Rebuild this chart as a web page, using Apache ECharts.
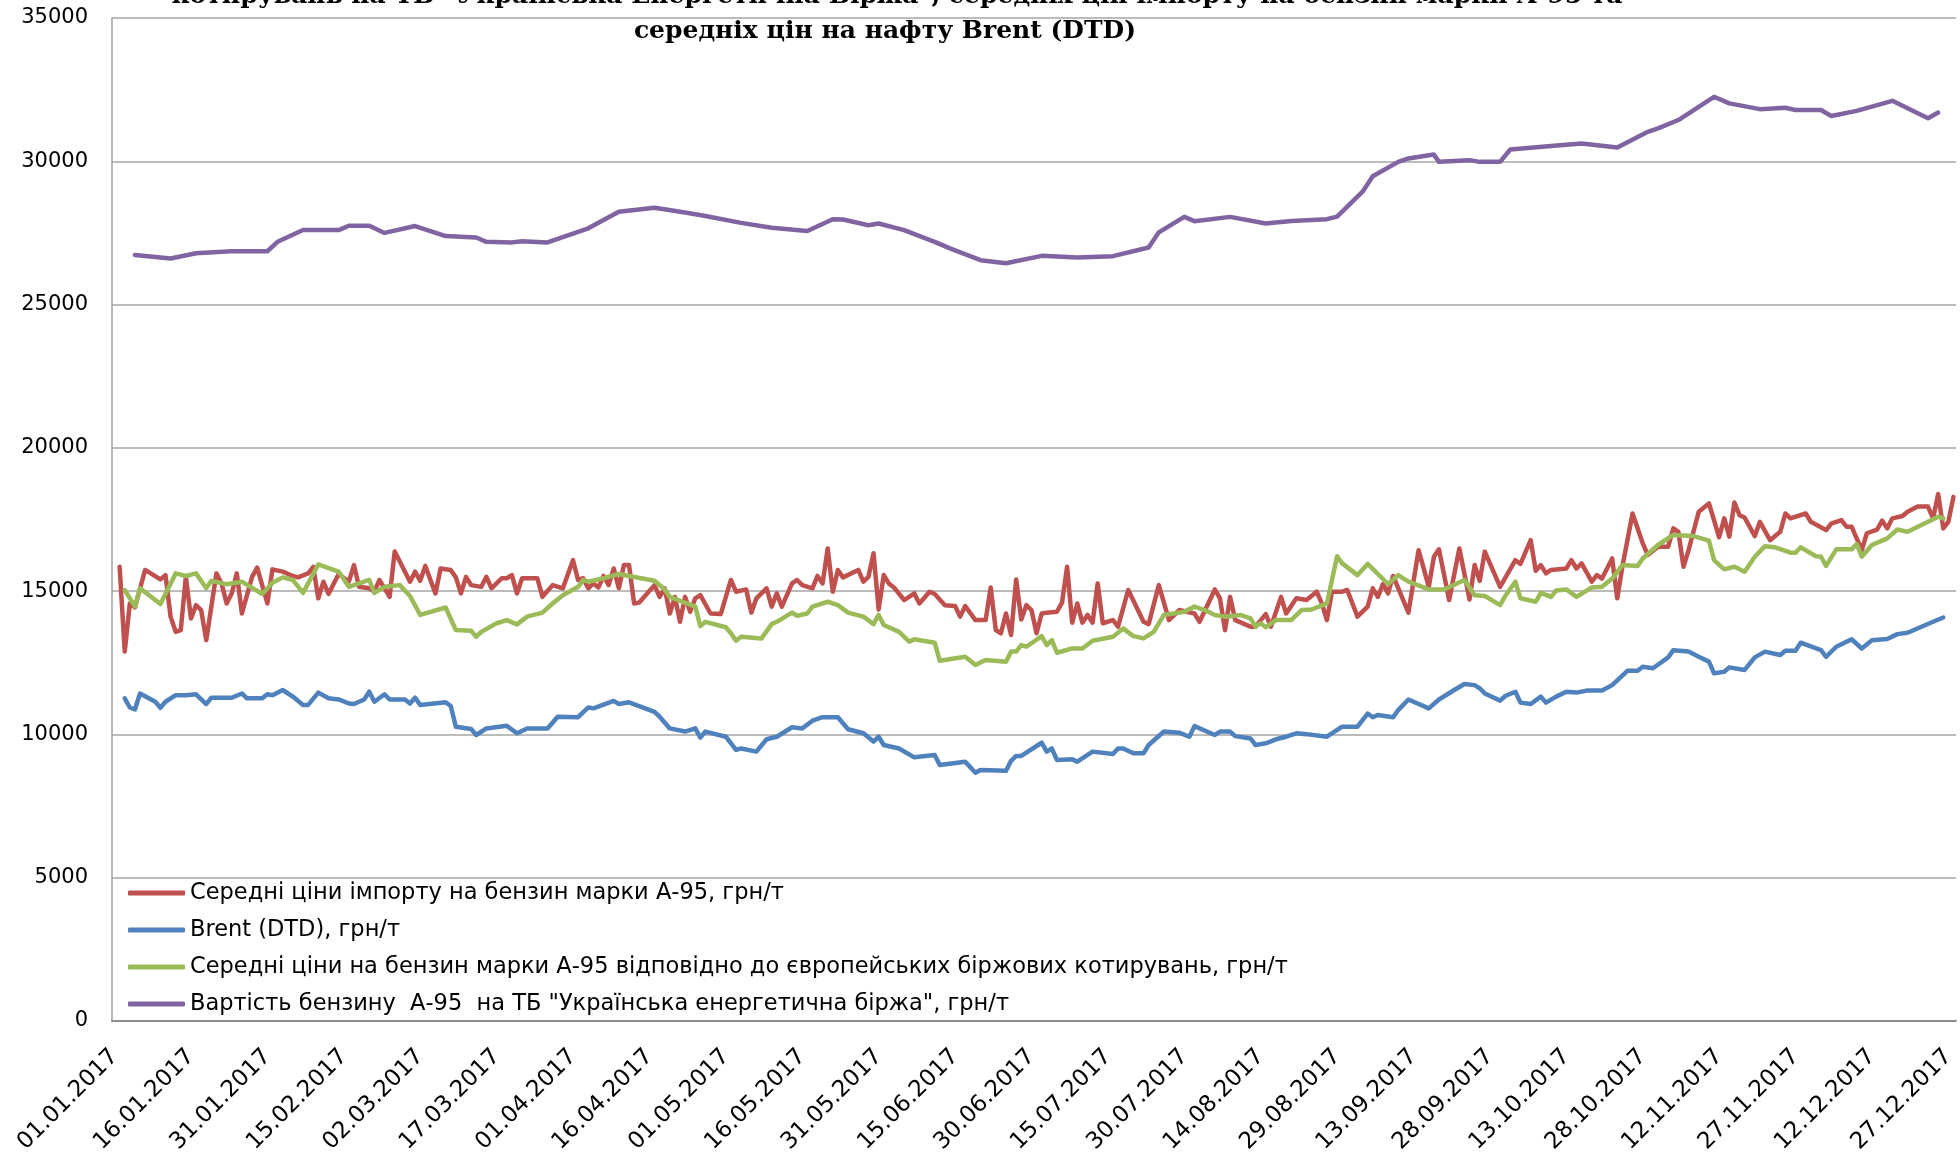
<!DOCTYPE html>
<html>
<head>
<meta charset="utf-8">
<title>Ціни на бензин А-95 та нафту Brent, 2017</title>
<script src="https://cdn.jsdelivr.net/npm/echarts@6/dist/echarts.min.js"></script>
<style>
  html, body { margin: 0; padding: 0; background: #fff; }
  #chart { width: 1960px; height: 1162px; }
</style>
</head>
<body>
<div id="chart"></div>
<script>
// x of every point = day of 2017 (0 = 01.01.2017), y = грн/т
const titleLines = [
  'котирувань на ТБ "Українська Енергетична Біржа", середніх цін імпорту на бензин марки А-95 та',
  'середніх цін на нафту Brent (DTD)'
];
const seriesNames = [
  'Середні ціни імпорту на бензин марки А-95, грн/т',
  'Brent (DTD), грн/т',
  'Середні ціни на бензин марки А-95 відповідно до європейських біржових котирувань, грн/т',
  'Вартість бензину  А-95  на ТБ "Українська енергетична біржа", грн/т'
];
const seriesColors = ['#C0504D', '#4F81BD', '#9BBB59', '#8064A2'];
const firstDay = [2017, 0, 1];
const dayCount = 362;      // 01.01.2017 .. 28.12.2017
const labelEvery = 15;     // tick labels every 15 days
const yTicks = [0, 5000, 10000, 15000, 20000, 25000, 30000, 35000];

const importA95 = [
  [1,15850],[2,12890],[3,14570],[4,14430],[6,15740],[9,15410],[10,15560],[11,14110],[12,13580],[13,13640],
  [14,15500],[15,14050],[16,14510],[17,14340],[18,13290],[20,15620],[21,15270],[22,14570],[23,14920],[24,15620],
  [25,14220],[27,15500],[28,15820],[30,14570],[31,15760],[33,15680],[35,15530],[36,15480],[38,15620],[39,15850],
  [40,14750],[41,15330],[42,14900],[44,15600],[46,15330],[47,15910],[48,15150],[50,15100],[51,14980],[52,15390],
  [54,14800],[55,16380],[58,15330],[59,15680],[60,15360],[61,15880],[63,14920],[64,15790],[66,15740],[67,15480],
  [68,14920],[69,15500],[70,15210],[72,15150],[73,15500],[74,15100],[76,15450],[77,15450],[78,15560],[79,14920],
  [80,15450],[83,15450],[84,14800],[86,15210],[88,15100],[90,16080],[91,15390],[92,15450],[93,15100],[94,15270],
  [95,15130],[96,15530],[97,15210],[98,15790],[99,15100],[100,15910],[101,15910],[102,14570],[103,14600],[106,15210],
  [107,14800],[108,15100],[109,14220],[110,14800],[111,13930],[112,14800],[113,14280],[114,14750],[115,14860],[117,14220],
  [119,14200],[121,15390],[122,14980],[124,15060],[125,14250],[126,14750],[128,15100],[129,14460],[130,14920],[131,14460],
  [133,15270],[134,15390],[135,15210],[137,15100],[138,15530],[139,15270],[140,16490],[141,14980],[142,15740],[143,15480],
  [146,15740],[147,15330],[148,15500],[149,16320],[150,14360],[151,15560],[152,15270],[153,15130],[155,14690],[157,14920],
  [158,14570],[160,14980],[161,14900],[163,14510],[165,14480],[166,14110],[167,14480],[169,13990],[171,13990],[172,15130],
  [173,13640],[174,13530],[175,14220],[176,13470],[177,15410],[178,14010],[179,14510],[180,14340],[181,13530],[182,14220],
  [183,14250],[185,14280],[186,14600],[187,15850],[188,13900],[189,14570],[190,13900],[191,14170],[192,13900],[193,15270],
  [194,13880],[196,13990],[197,13760],[199,15040],[202,13930],[203,13850],[205,15210],[207,13990],[209,14340],[212,14220],
  [213,13930],[216,15060],[217,14750],[218,13640],[219,14800],[220,13990],[223,13760],[224,13760],[226,14200],[227,13760],
  [229,14800],[230,14220],[232,14750],[234,14690],[236,14980],[237,14570],[238,13990],[239,14980],[241,14980],[242,15040],
  [244,14110],[246,14460],[247,15100],[248,14800],[249,15250],[250,14920],[251,15530],[254,14250],[256,16430],[258,15150],
  [259,16200],[260,16460],[262,14690],[264,16490],[266,14710],[267,15910],[268,15360],[269,16380],[272,15150],[275,16080],
  [276,15950],[278,16780],[279,15710],[280,15910],[281,15620],[282,15740],[285,15790],[286,16080],[287,15790],[288,15970],
  [290,15330],[291,15560],[292,15440],[294,16140],[295,14750],[296,15850],[298,17710],[300,16670],[301,16260],[303,16550],
  [305,16550],[306,17190],[307,17070],[308,15850],[309,16430],[311,17770],[313,18060],[315,16880],[316,17540],[317,16900],
  [318,18090],[319,17650],[320,17570],[322,16920],[323,17420],[325,16780],[327,17070],[328,17710],[329,17540],[332,17710],
  [333,17420],[336,17130],[337,17360],[339,17480],[340,17250],[341,17250],[343,16430],[344,17020],[346,17150],[347,17460],
  [348,17190],[349,17540],[351,17620],[352,17770],[354,17950],[356,17950],[357,17540],[358,18390],[359,17190],[360,17420],
  [361,18290]
];

const brentDtd = [
  [2,11260],[3,10940],[4,10870],[5,11430],[8,11140],[9,10930],[10,11140],[12,11370],[14,11370],[16,11400],
  [18,11060],[19,11280],[23,11280],[25,11430],[26,11260],[29,11260],[30,11400],[31,11370],[33,11550],[35,11320],
  [37,11030],[38,11030],[40,11460],[42,11260],[44,11220],[46,11080],[47,11060],[49,11220],[50,11490],[51,11140],
  [53,11400],[54,11220],[57,11220],[58,11080],[59,11280],[60,11030],[65,11120],[66,10990],[67,10270],[70,10190],
  [71,9980],[73,10210],[77,10300],[79,10040],[81,10210],[85,10210],[87,10620],[91,10600],[93,10940],[94,10910],
  [98,11170],[99,11060],[101,11120],[106,10790],[107,10620],[109,10210],[112,10100],[114,10210],[115,9890],[116,10100],
  [120,9920],[122,9460],[123,9510],[126,9400],[128,9830],[130,9920],[133,10250],[135,10210],[137,10480],[139,10600],
  [142,10600],[144,10180],[147,10040],[149,9750],[150,9920],[151,9630],[154,9510],[157,9200],[161,9280],[162,8930],
  [167,9050],[169,8660],[170,8760],[175,8730],[176,9080],[177,9250],[178,9250],[182,9710],[183,9400],[184,9510],
  [185,9110],[188,9130],[189,9050],[192,9400],[196,9320],[197,9510],[198,9510],[200,9340],[202,9340],[203,9630],
  [206,10100],[209,10060],[211,9920],[212,10290],[216,9980],[217,10100],[219,10100],[220,9940],[223,9860],[224,9630],
  [226,9690],[228,9830],[230,9920],[232,10040],[234,10010],[238,9920],[241,10270],[244,10270],[246,10730],[247,10600],
  [248,10680],[251,10600],[252,10850],[254,11220],[255,11140],[258,10910],[260,11220],[263,11550],[265,11760],[267,11720],
  [268,11610],[269,11430],[272,11180],[273,11340],[275,11490],[276,11110],[278,11060],[280,11320],[281,11110],[283,11320],
  [285,11490],[287,11460],[289,11530],[292,11530],[294,11720],[297,12220],[299,12220],[300,12360],[302,12310],[305,12690],
  [306,12940],[309,12890],[311,12710],[313,12540],[314,12130],[316,12190],[317,12340],[320,12250],[322,12690],[324,12890],
  [327,12770],[328,12920],[330,12920],[331,13200],[335,12940],[336,12710],[338,13060],[341,13320],[343,13000],[345,13290],
  [348,13330],[350,13500],[352,13550],[357,13930],[359,14080]
];

const europeA95 = [
  [2,15040],[4,14460],[5,15100],[9,14550],[12,15620],[14,15530],[16,15620],[18,15100],[19,15360],[22,15240],
  [25,15330],[29,14900],[31,15290],[33,15480],[35,15390],[37,14940],[38,15270],[40,15930],[43,15740],[44,15680],
  [46,15150],[50,15390],[51,14940],[53,15150],[56,15210],[58,14830],[60,14170],[65,14430],[67,13640],[70,13620],
  [71,13410],[72,13580],[75,13880],[77,13990],[79,13840],[81,14110],[84,14250],[86,14570],[88,14860],[91,15150],
  [92,15390],[93,15330],[96,15450],[99,15600],[101,15530],[106,15360],[108,15060],[109,14800],[114,14460],[115,13780],
  [116,13930],[120,13740],[121,13530],[122,13270],[123,13410],[127,13350],[129,13850],[130,13930],[133,14250],[134,14140],
  [136,14220],[137,14460],[140,14630],[142,14510],[144,14250],[147,14110],[149,13850],[150,14170],[151,13820],[154,13580],
  [156,13240],[157,13320],[161,13200],[162,12570],[167,12710],[169,12420],[171,12600],[175,12540],[176,12890],[177,12890],
  [178,13120],[179,13060],[182,13430],[183,13120],[184,13290],[185,12850],[188,13000],[190,13000],[192,13270],[196,13410],
  [198,13700],[200,13430],[202,13350],[204,13580],[206,14170],[210,14280],[212,14460],[214,14340],[216,14170],[218,14110],
  [221,14170],[223,14050],[224,13760],[225,13880],[226,13740],[228,13990],[231,13990],[233,14340],[235,14360],[238,14570],
  [240,16220],[241,15970],[244,15560],[246,15950],[250,15250],[252,15560],[254,15330],[258,15060],[261,15060],[265,15390],
  [267,14860],[269,14830],[272,14510],[273,14830],[275,15330],[276,14750],[279,14630],[280,14940],[282,14800],[283,15020],
  [285,15060],[287,14800],[290,15130],[292,15150],[294,15440],[296,15910],[299,15880],[300,16140],[303,16610],[306,16960],
  [310,16920],[313,16760],[314,16080],[316,15760],[318,15850],[320,15680],[322,16200],[324,16570],[326,16530],[329,16340],
  [330,16340],[331,16530],[334,16220],[335,16200],[336,15880],[338,16460],[341,16460],[342,16640],[343,16200],[345,16610],
  [348,16840],[350,17150],[352,17070],[356,17420],[358,17600],[359,17540]
];

const exchangeA95 = [
  [4,26730],[11,26610],[16,26790],[23,26860],[30,26860],[32,27190],[37,27600],[44,27600],[46,27750],[50,27750],
  [53,27500],[59,27740],[65,27390],[71,27340],[73,27190],[78,27170],[80,27210],[85,27170],[93,27660],[99,28240],
  [106,28380],[112,28210],[116,28090],[123,27850],[129,27680],[136,27570],[141,27980],[143,27970],[148,27770],[150,27830],
  [155,27600],[161,27190],[164,26960],[170,26550],[175,26440],[182,26700],[189,26640],[196,26690],[203,26990],[205,27520],
  [210,28060],[212,27910],[219,28060],[226,27830],[231,27920],[238,27980],[240,28070],[245,28940],[247,29480],[252,29980],
  [254,30100],[259,30240],[260,29980],[266,30040],[268,29980],[272,29980],[274,30410],[282,30530],[288,30620],[295,30480],
  [301,31030],[303,31150],[307,31440],[314,32250],[317,32020],[323,31820],[328,31870],[330,31790],[335,31790],[337,31580],
  [342,31760],[349,32110],[356,31500],[358,31700]
];

const pad = n => (n < 10 ? '0' : '') + n;
const categories = [];
for (let i = 0; i < dayCount; i++) {
  const d = new Date(Date.UTC(firstDay[0], firstDay[1], firstDay[2] + i));
  categories.push(pad(d.getUTCDate()) + '.' + pad(d.getUTCMonth() + 1) + '.' + d.getUTCFullYear());
}

const seriesData = [importA95, brentDtd, europeA95, exchangeA95];

const chart = echarts.init(document.getElementById('chart'));
chart.setOption({
  animation: false,
  backgroundColor: '#ffffff',
  graphic: [
    {
      type: 'text', x: 897, y: -4,
      style: { text: titleLines[0], font: 'bold 25px "DejaVu Serif"', fill: '#000', textAlign: 'center', textVerticalAlign: 'middle' }
    },
    {
      type: 'text', x: 885, y: 31,
      style: { text: titleLines[1], font: 'bold 25px "DejaVu Serif"', fill: '#000', textAlign: 'center', textVerticalAlign: 'middle' }
    }
  ],
  legend: {
    orient: 'vertical',
    left: 128,
    top: 880,
    icon: 'roundRect',
    itemWidth: 57,
    itemHeight: 5,
    itemGap: 11,
    padding: 0,
    textStyle: { fontFamily: 'DejaVu Sans', fontSize: 22.5, color: '#000', lineHeight: 26 },
    data: seriesNames
  },
  grid: { left: 112, right: 4, top: 18, bottom: 141 },
  xAxis: {
    type: 'category',
    data: categories,
    boundaryGap: true,
    axisLine: { lineStyle: { color: '#8c8c8c', width: 2 } },
    axisTick: { show: false },
    axisLabel: {
      interval: (index) => index % labelEvery === 0,
      rotate: 45,
      margin: 32,
      fontFamily: 'DejaVu Sans',
      fontSize: 23,
      color: '#000'
    }
  },
  yAxis: {
    type: 'value',
    min: yTicks[0],
    max: yTicks[yTicks.length - 1],
    interval: yTicks[1] - yTicks[0],
    axisLine: { show: true, lineStyle: { color: '#a0a0a0', width: 1.5 } },
    axisTick: { show: false },
    splitLine: { lineStyle: { color: '#a6a6a6', width: 1.5 } },
    axisLabel: {
      margin: 24,
      fontFamily: 'DejaVu Sans',
      fontSize: 21,
      color: '#000',
      formatter: (v) => String(v)
    }
  },
  series: seriesNames.map((name, i) => ({
    name: name,
    type: 'line',
    data: seriesData[i],
    symbol: 'none',
    color: seriesColors[i],
    lineStyle: { width: 4.5, color: seriesColors[i], cap: 'round', join: 'round' }
  }))
});
</script>
</body>
</html>
